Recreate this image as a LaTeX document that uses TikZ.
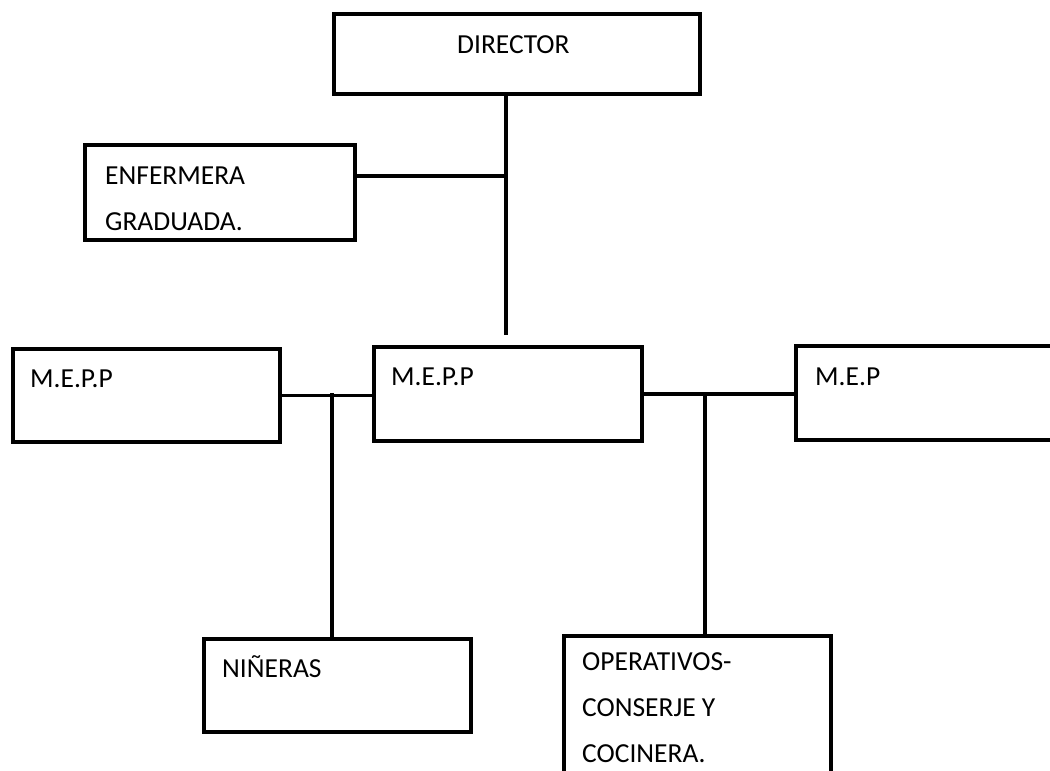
\documentclass[tikz,border=0pt]{standalone}
\usepackage{fontspec}
\setmainfont{Carlito}
\usepackage{tikz}

\begin{document}
\begin{tikzpicture}[x=1pt, y=-1pt, bnode/.style={draw, line width=3.5pt, rectangle, anchor=north west, inner sep=0pt}, tnode/.style={anchor=base west, inner sep=0pt, align=left, font=\fontsize{27.5}{46}\selectfont}, conn/.style={line width=3.5pt}]
    \useasboundingbox (0,0) rectangle (1050,771);

    \node[bnode, minimum width=366pt, minimum height=80pt] (dir) at (332, 12) {};
    \node[bnode, minimum width=270pt, minimum height=95pt] (enf) at (83, 143) {};
    \node[bnode, minimum width=267pt, minimum height=93pt] (mepl) at (11, 347) {};
    \node[bnode, minimum width=268pt, minimum height=94pt] (mepc) at (372, 345) {};
    \node[bnode, minimum width=276pt, minimum height=94pt] (mepr) at (794, 344) {};
    \node[bnode, minimum width=267pt, minimum height=93pt] (nin) at (202, 637) {};
    \node[bnode, minimum width=267pt, minimum height=166pt] (ope) at (562, 634) {};

    % base anchor sits on the last line
    \node[tnode] (dirtxt) at (457, 53) {DIRECTOR};
    \node[tnode] (enftxt) at (105, 230) {ENFERMERA\\GRADUADA.};
    \node[tnode] (mepltxt) at (30, 387) {M.E.P.P};
    \node[tnode] (mepctxt) at (391, 385) {M.E.P.P};
    \node[tnode] (meprtxt) at (815, 385) {M.E.P};
    \node[tnode] (nintxt) at (222, 677) {NIÑERAS};
    \node[tnode] (opetxt) at (582, 762) {OPERATIVOS-\\CONSERJE Y\\COCINERA.};

    \coordinate (jdir) at (506, 335);
    \coordinate (jenf) at (506, 176);
    \coordinate (jnin) at (332, 393);
    \coordinate (jope) at (705, 392);

    \draw[conn] (dir.south -| jdir) -- (jdir) ;
    \draw[conn] (jenf -| enf.east) -- (jenf) ;
    \draw[conn] (mepl.east) -- (mepl.east -| mepc.west) ;
    \draw[conn] (jnin) -- (jnin |- nin.north) ;
    \draw[conn] (mepc.east) -- (mepc.east -| mepr.west) ;
    \draw[conn] (jope) -- (jope |- ope.north) ;

\end{tikzpicture}
\end{document}
